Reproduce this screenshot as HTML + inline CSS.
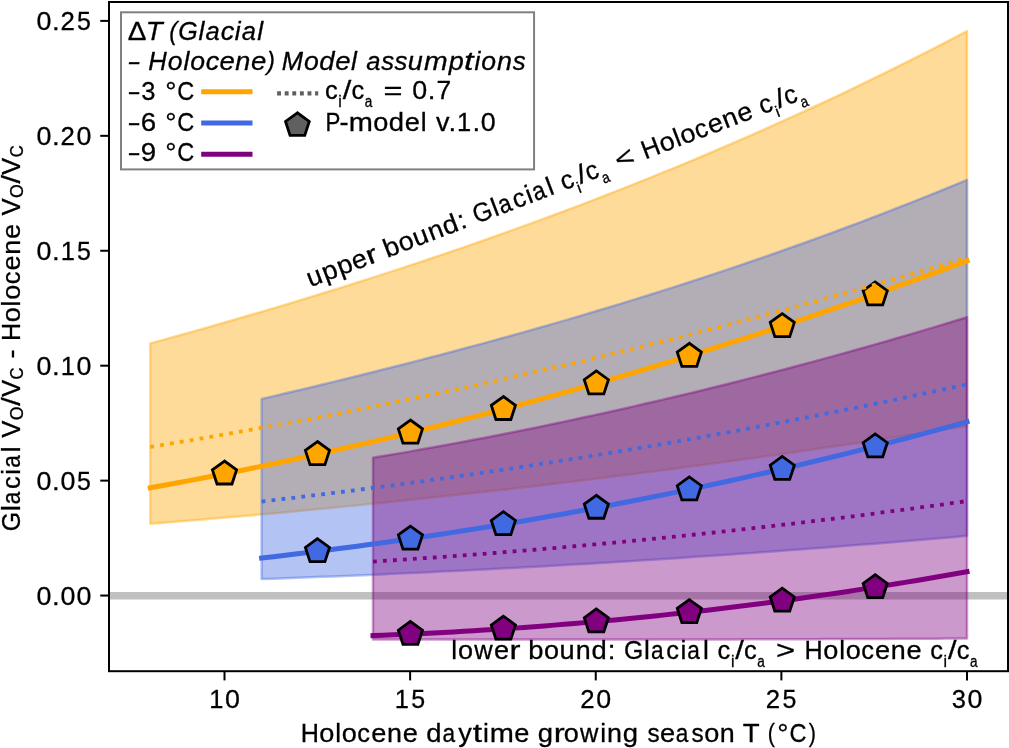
<!DOCTYPE html>
<html><head><meta charset="utf-8"><style>
html,body{margin:0;padding:0;background:#fff;}
body{width:1009px;height:748px;overflow:hidden;}
svg{display:block;font-family:"Liberation Sans",sans-serif;will-change:transform;}
</style></head><body>
<svg width="1009" height="748" viewBox="0 0 1009 748">
<rect width="1009" height="748" fill="#fff"/>
<defs><clipPath id="ax"><rect x="109" y="2" width="899" height="669.2"/></clipPath></defs>
<g clip-path="url(#ax)">
<line x1="109" x2="1008" y1="595.7" y2="595.7" stroke="#c0c0c0" stroke-width="7.5"/>
<path d="M150.25,343.40 L164.09,339.60 L177.94,335.76 L191.78,331.89 L205.62,327.98 L219.47,324.03 L233.31,320.04 L247.15,316.02 L261.00,311.95 L274.84,307.85 L288.68,303.70 L302.53,299.51 L316.37,295.27 L330.21,290.99 L344.06,286.67 L357.90,282.30 L371.74,277.88 L385.58,273.42 L399.43,268.90 L413.27,264.34 L427.11,259.72 L440.96,255.06 L454.80,250.34 L468.64,245.57 L482.49,240.74 L496.33,235.86 L510.17,230.93 L524.02,225.93 L537.86,220.88 L551.70,215.78 L565.55,210.61 L579.39,205.38 L593.23,200.09 L607.08,194.74 L620.92,189.33 L634.76,183.86 L648.61,178.32 L662.45,172.71 L676.29,167.04 L690.14,161.30 L703.98,155.49 L717.82,149.62 L731.67,143.67 L745.51,137.66 L759.35,131.57 L773.19,125.41 L787.04,119.18 L800.88,112.88 L814.72,106.50 L828.57,100.04 L842.41,93.51 L856.25,86.90 L870.10,80.22 L883.94,73.45 L897.78,66.60 L911.63,59.68 L925.47,52.67 L939.31,45.58 L953.16,38.40 L967.00,31.15 L967.00,425.99 L953.16,428.20 L939.31,430.39 L925.47,432.56 L911.63,434.72 L897.78,436.85 L883.94,438.97 L870.10,441.06 L856.25,443.14 L842.41,445.20 L828.57,447.24 L814.72,449.26 L800.88,451.26 L787.04,453.24 L773.19,455.21 L759.35,457.15 L745.51,459.08 L731.67,460.98 L717.82,462.87 L703.98,464.74 L690.14,466.59 L676.29,468.42 L662.45,470.23 L648.61,472.02 L634.76,473.80 L620.92,475.55 L607.08,477.28 L593.23,479.00 L579.39,480.70 L565.55,482.37 L551.70,484.03 L537.86,485.67 L524.02,487.29 L510.17,488.89 L496.33,490.48 L482.49,492.04 L468.64,493.58 L454.80,495.11 L440.96,496.61 L427.11,498.10 L413.27,499.57 L399.43,501.02 L385.58,502.45 L371.74,503.86 L357.90,505.25 L344.06,506.62 L330.21,507.98 L316.37,509.31 L302.53,510.63 L288.68,511.92 L274.84,513.20 L261.00,514.46 L247.15,515.70 L233.31,516.92 L219.47,518.12 L205.62,519.30 L191.78,520.47 L177.94,521.61 L164.09,522.73 L150.25,523.84 Z" fill="#ffa500" fill-opacity="0.4" stroke="#ffa500" stroke-opacity="0.4" stroke-width="2.5" stroke-linejoin="round"/>
<path d="M261.62,398.91 L273.58,396.13 L285.54,393.33 L297.49,390.50 L309.45,387.66 L321.40,384.78 L333.36,381.89 L345.31,378.97 L357.27,376.03 L369.22,373.06 L381.18,370.06 L393.14,367.04 L405.09,363.99 L417.05,360.91 L429.00,357.81 L440.96,354.68 L452.91,351.51 L464.87,348.32 L476.82,345.10 L488.78,341.84 L500.74,338.56 L512.69,335.24 L524.65,331.89 L536.60,328.50 L548.56,325.08 L560.51,321.63 L572.47,318.14 L584.42,314.62 L596.38,311.06 L608.33,307.47 L620.29,303.84 L632.25,300.17 L644.20,296.46 L656.16,292.71 L668.11,288.93 L680.07,285.10 L692.02,281.23 L703.98,277.33 L715.93,273.38 L727.89,269.39 L739.85,265.35 L751.80,261.28 L763.76,257.16 L775.71,252.99 L787.67,248.78 L799.62,244.53 L811.58,240.23 L823.53,235.88 L835.49,231.48 L847.44,227.04 L859.40,222.55 L871.36,218.01 L883.31,213.43 L895.27,208.79 L907.22,204.10 L919.18,199.36 L931.13,194.57 L943.09,189.73 L955.04,184.83 L967.00,179.88 L967.00,535.87 L955.04,536.91 L943.09,537.94 L931.13,538.96 L919.18,539.97 L907.22,540.97 L895.27,541.95 L883.31,542.93 L871.36,543.90 L859.40,544.85 L847.44,545.80 L835.49,546.73 L823.53,547.66 L811.58,548.57 L799.62,549.47 L787.67,550.37 L775.71,551.25 L763.76,552.12 L751.80,552.98 L739.85,553.83 L727.89,554.67 L715.93,555.50 L703.98,556.31 L692.02,557.12 L680.07,557.92 L668.11,558.70 L656.16,559.48 L644.20,560.24 L632.25,561.00 L620.29,561.74 L608.33,562.47 L596.38,563.20 L584.42,563.91 L572.47,564.61 L560.51,565.30 L548.56,565.98 L536.60,566.65 L524.65,567.31 L512.69,567.95 L500.74,568.59 L488.78,569.22 L476.82,569.83 L464.87,570.44 L452.91,571.03 L440.96,571.62 L429.00,572.19 L417.05,572.75 L405.09,573.30 L393.14,573.85 L381.18,574.38 L369.22,574.90 L357.27,575.41 L345.31,575.91 L333.36,576.39 L321.40,576.87 L309.45,577.34 L297.49,577.80 L285.54,578.24 L273.58,578.68 L261.62,579.10 Z" fill="#4169e1" fill-opacity="0.4" stroke="#4169e1" stroke-opacity="0.4" stroke-width="2.5" stroke-linejoin="round"/>
<path d="M373.00,457.76 L383.07,456.08 L393.14,454.37 L403.20,452.63 L413.27,450.88 L423.34,449.09 L433.41,447.29 L443.47,445.46 L453.54,443.61 L463.61,441.73 L473.68,439.83 L483.75,437.90 L493.81,435.95 L503.88,433.98 L513.95,431.98 L524.02,429.96 L534.08,427.91 L544.15,425.85 L554.22,423.75 L564.29,421.63 L574.36,419.49 L584.42,417.33 L594.49,415.14 L604.56,412.92 L614.63,410.69 L624.69,408.42 L634.76,406.14 L644.83,403.83 L654.90,401.50 L664.97,399.14 L675.03,396.76 L685.10,394.35 L695.17,391.92 L705.24,389.47 L715.31,386.99 L725.37,384.49 L735.44,381.96 L745.51,379.41 L755.58,376.84 L765.64,374.24 L775.71,371.62 L785.78,368.97 L795.85,366.30 L805.92,363.61 L815.98,360.89 L826.05,358.15 L836.12,355.38 L846.19,352.59 L856.25,349.78 L866.32,346.94 L876.39,344.08 L886.46,341.19 L896.53,338.28 L906.59,335.35 L916.66,332.39 L926.73,329.41 L936.80,326.40 L946.86,323.37 L956.93,320.32 L967.00,317.24 L967.00,638.50 L956.93,638.55 L946.86,638.60 L936.80,638.65 L926.73,638.70 L916.66,638.75 L906.59,638.80 L896.53,638.84 L886.46,638.88 L876.39,638.93 L866.32,638.97 L856.25,639.01 L846.19,639.05 L836.12,639.08 L826.05,639.12 L815.98,639.15 L805.92,639.19 L795.85,639.22 L785.78,639.25 L775.71,639.28 L765.64,639.31 L755.58,639.33 L745.51,639.36 L735.44,639.38 L725.37,639.41 L715.31,639.43 L705.24,639.45 L695.17,639.47 L685.10,639.49 L675.03,639.50 L664.97,639.52 L654.90,639.53 L644.83,639.54 L634.76,639.56 L624.69,639.57 L614.63,639.57 L604.56,639.58 L594.49,639.59 L584.42,639.59 L574.36,639.60 L564.29,639.60 L554.22,639.60 L544.15,639.60 L534.08,639.60 L524.02,639.60 L513.95,639.59 L503.88,639.59 L493.81,639.58 L483.75,639.57 L473.68,639.56 L463.61,639.55 L453.54,639.54 L443.47,639.53 L433.41,639.51 L423.34,639.50 L413.27,639.48 L403.20,639.46 L393.14,639.44 L383.07,639.42 L373.00,639.40 Z" fill="#800080" fill-opacity="0.4" stroke="#800080" stroke-opacity="0.4" stroke-width="2.5" stroke-linejoin="round"/>
<path d="M150.25,487.82 L164.09,485.30 L177.94,482.73 L191.78,480.11 L205.62,477.45 L219.47,474.74 L233.31,471.99 L247.15,469.19 L261.00,466.34 L274.84,463.45 L288.68,460.51 L302.53,457.53 L316.37,454.50 L330.21,451.43 L344.06,448.31 L357.90,445.15 L371.74,441.94 L385.58,438.68 L399.43,435.38 L413.27,432.03 L427.11,428.64 L440.96,425.20 L454.80,421.72 L468.64,418.19 L482.49,414.61 L496.33,410.99 L510.17,407.33 L524.02,403.61 L537.86,399.86 L551.70,396.05 L565.55,392.21 L579.39,388.31 L593.23,384.37 L607.08,380.39 L620.92,376.36 L634.76,372.28 L648.61,368.16 L662.45,363.99 L676.29,359.78 L690.14,355.52 L703.98,351.22 L717.82,346.87 L731.67,342.47 L745.51,338.03 L759.35,333.55 L773.19,329.02 L787.04,324.44 L800.88,319.82 L814.72,315.15 L828.57,310.44 L842.41,305.68 L856.25,300.88 L870.10,296.03 L883.94,291.14 L897.78,286.20 L911.63,281.21 L925.47,276.18 L939.31,271.11 L953.16,265.99 L967.00,260.82" fill="none" stroke="#ffa500" stroke-width="5" stroke-linecap="square" stroke-linejoin="round"/>
<path d="M261.62,558.08 L273.58,556.69 L285.54,555.28 L297.49,553.84 L309.45,552.38 L321.40,550.88 L333.36,549.35 L345.31,547.79 L357.27,546.20 L369.22,544.58 L381.18,542.93 L393.14,541.25 L405.09,539.54 L417.05,537.80 L429.00,536.02 L440.96,534.22 L452.91,532.38 L464.87,530.52 L476.82,528.62 L488.78,526.69 L500.74,524.72 L512.69,522.73 L524.65,520.70 L536.60,518.65 L548.56,516.55 L560.51,514.43 L572.47,512.27 L584.42,510.08 L596.38,507.86 L608.33,505.61 L620.29,503.32 L632.25,501.00 L644.20,498.64 L656.16,496.25 L668.11,493.83 L680.07,491.37 L692.02,488.88 L703.98,486.35 L715.93,483.79 L727.89,481.20 L739.85,478.57 L751.80,475.90 L763.76,473.20 L775.71,470.47 L787.67,467.70 L799.62,464.90 L811.58,462.05 L823.53,459.18 L835.49,456.27 L847.44,453.32 L859.40,450.33 L871.36,447.31 L883.31,444.26 L895.27,441.16 L907.22,438.03 L919.18,434.86 L931.13,431.66 L943.09,428.42 L955.04,425.14 L967.00,421.83" fill="none" stroke="#4169e1" stroke-width="5" stroke-linecap="square" stroke-linejoin="round"/>
<path d="M373.00,635.62 L383.07,635.23 L393.14,634.83 L403.20,634.40 L413.27,633.95 L423.34,633.47 L433.41,632.97 L443.47,632.45 L453.54,631.90 L463.61,631.33 L473.68,630.74 L483.75,630.12 L493.81,629.48 L503.88,628.81 L513.95,628.12 L524.02,627.41 L534.08,626.67 L544.15,625.91 L554.22,625.12 L564.29,624.31 L574.36,623.48 L584.42,622.62 L594.49,621.74 L604.56,620.83 L614.63,619.90 L624.69,618.95 L634.76,617.97 L644.83,616.96 L654.90,615.93 L664.97,614.88 L675.03,613.80 L685.10,612.70 L695.17,611.57 L705.24,610.42 L715.31,609.24 L725.37,608.04 L735.44,606.81 L745.51,605.56 L755.58,604.29 L765.64,602.98 L775.71,601.66 L785.78,600.31 L795.85,598.93 L805.92,597.53 L815.98,596.10 L826.05,594.65 L836.12,593.17 L846.19,591.66 L856.25,590.14 L866.32,588.58 L876.39,587.00 L886.46,585.40 L896.53,583.76 L906.59,582.11 L916.66,580.42 L926.73,578.72 L936.80,576.98 L946.86,575.22 L956.93,573.44 L967.00,571.62" fill="none" stroke="#800080" stroke-width="5" stroke-linecap="square" stroke-linejoin="round"/>
<path d="M224.50,461.04 L212.42,469.82 L217.04,484.02 L231.96,484.02 L236.58,469.82 Z" fill="#ffa500" stroke="#000" stroke-width="2.8" stroke-linejoin="miter"/>
<path d="M317.46,441.60 L305.38,450.37 L310.00,464.57 L324.93,464.57 L329.54,450.37 Z" fill="#ffa500" stroke="#000" stroke-width="2.8" stroke-linejoin="miter"/>
<path d="M410.43,420.10 L398.35,428.87 L402.96,443.07 L417.89,443.07 L422.50,428.87 Z" fill="#ffa500" stroke="#000" stroke-width="2.8" stroke-linejoin="miter"/>
<path d="M503.39,396.55 L491.31,405.32 L495.92,419.52 L510.85,419.52 L515.47,405.32 Z" fill="#ffa500" stroke="#000" stroke-width="2.8" stroke-linejoin="miter"/>
<path d="M596.35,370.95 L584.27,379.73 L588.89,393.93 L603.81,393.93 L608.43,379.73 Z" fill="#ffa500" stroke="#000" stroke-width="2.8" stroke-linejoin="miter"/>
<path d="M689.31,343.31 L677.23,352.08 L681.85,366.28 L696.78,366.28 L701.39,352.08 Z" fill="#ffa500" stroke="#000" stroke-width="2.8" stroke-linejoin="miter"/>
<path d="M782.27,313.62 L770.20,322.40 L774.81,336.59 L789.74,336.59 L794.35,322.40 Z" fill="#ffa500" stroke="#000" stroke-width="2.8" stroke-linejoin="miter"/>
<path d="M875.24,281.89 L863.16,290.67 L867.77,304.87 L882.70,304.87 L887.32,290.67 Z" fill="#ffa500" stroke="#000" stroke-width="2.8" stroke-linejoin="miter"/>
<path d="M317.46,538.69 L305.38,547.47 L310.00,561.67 L324.93,561.67 L329.54,547.47 Z" fill="#4169e1" stroke="#000" stroke-width="2.8" stroke-linejoin="miter"/>
<path d="M410.43,526.11 L398.35,534.88 L402.96,549.08 L417.89,549.08 L422.50,534.88 Z" fill="#4169e1" stroke="#000" stroke-width="2.8" stroke-linejoin="miter"/>
<path d="M503.39,511.66 L491.31,520.44 L495.92,534.63 L510.85,534.63 L515.47,520.44 Z" fill="#4169e1" stroke="#000" stroke-width="2.8" stroke-linejoin="miter"/>
<path d="M596.35,495.28 L584.27,504.06 L588.89,518.25 L603.81,518.25 L608.43,504.06 Z" fill="#4169e1" stroke="#000" stroke-width="2.8" stroke-linejoin="miter"/>
<path d="M689.31,476.90 L677.23,485.68 L681.85,499.88 L696.78,499.88 L701.39,485.68 Z" fill="#4169e1" stroke="#000" stroke-width="2.8" stroke-linejoin="miter"/>
<path d="M782.27,456.46 L770.20,465.24 L774.81,479.44 L789.74,479.44 L794.35,465.24 Z" fill="#4169e1" stroke="#000" stroke-width="2.8" stroke-linejoin="miter"/>
<path d="M875.24,433.89 L863.16,442.67 L867.77,456.87 L882.70,456.87 L887.32,442.67 Z" fill="#4169e1" stroke="#000" stroke-width="2.8" stroke-linejoin="miter"/>
<path d="M410.43,621.39 L398.35,630.17 L402.96,644.37 L417.89,644.37 L422.50,630.17 Z" fill="#800080" stroke="#000" stroke-width="2.8" stroke-linejoin="miter"/>
<path d="M503.39,616.17 L491.31,624.95 L495.92,639.15 L510.85,639.15 L515.47,624.95 Z" fill="#800080" stroke="#000" stroke-width="2.8" stroke-linejoin="miter"/>
<path d="M596.35,608.93 L584.27,617.70 L588.89,631.90 L603.81,631.90 L608.43,617.70 Z" fill="#800080" stroke="#000" stroke-width="2.8" stroke-linejoin="miter"/>
<path d="M689.31,599.62 L677.23,608.39 L681.85,622.59 L696.78,622.59 L701.39,608.39 Z" fill="#800080" stroke="#000" stroke-width="2.8" stroke-linejoin="miter"/>
<path d="M782.27,588.20 L770.20,596.98 L774.81,611.18 L789.74,611.18 L794.35,596.98 Z" fill="#800080" stroke="#000" stroke-width="2.8" stroke-linejoin="miter"/>
<path d="M875.24,574.65 L863.16,583.42 L867.77,597.62 L882.70,597.62 L887.32,583.42 Z" fill="#800080" stroke="#000" stroke-width="2.8" stroke-linejoin="miter"/>
<path d="M150.25,446.95 L164.09,444.69 L177.94,442.40 L191.78,440.07 L205.62,437.72 L219.47,435.33 L233.31,432.90 L247.15,430.44 L261.00,427.96 L274.84,425.43 L288.68,422.88 L302.53,420.29 L316.37,417.67 L330.21,415.02 L344.06,412.33 L357.90,409.61 L371.74,406.86 L385.58,404.08 L399.43,401.26 L413.27,398.41 L427.11,395.53 L440.96,392.62 L454.80,389.67 L468.64,386.69 L482.49,383.68 L496.33,380.63 L510.17,377.56 L524.02,374.44 L537.86,371.30 L551.70,368.13 L565.55,364.92 L579.39,361.68 L593.23,358.40 L607.08,355.09 L620.92,351.75 L634.76,348.38 L648.61,344.98 L662.45,341.54 L676.29,338.07 L690.14,334.57 L703.98,331.03 L717.82,327.46 L731.67,323.86 L745.51,320.23 L759.35,316.56 L773.19,312.86 L787.04,309.13 L800.88,305.36 L814.72,301.57 L828.57,297.74 L842.41,293.87 L856.25,289.98 L870.10,286.05 L883.94,282.09 L897.78,278.09 L911.63,274.07 L925.47,270.01 L939.31,265.92 L953.16,261.79 L967.00,257.64" fill="none" stroke="#ffa500" stroke-width="3.8" stroke-dasharray="3.8 6.2"/>
<path d="M261.62,501.49 L273.58,500.12 L285.54,498.73 L297.49,497.32 L309.45,495.89 L321.40,494.44 L333.36,492.96 L345.31,491.46 L357.27,489.95 L369.22,488.41 L381.18,486.85 L393.14,485.27 L405.09,483.66 L417.05,482.04 L429.00,480.39 L440.96,478.73 L452.91,477.04 L464.87,475.33 L476.82,473.60 L488.78,471.85 L500.74,470.08 L512.69,468.28 L524.65,466.47 L536.60,464.63 L548.56,462.77 L560.51,460.89 L572.47,458.99 L584.42,457.07 L596.38,455.13 L608.33,453.16 L620.29,451.18 L632.25,449.17 L644.20,447.14 L656.16,445.09 L668.11,443.02 L680.07,440.93 L692.02,438.82 L703.98,436.68 L715.93,434.53 L727.89,432.35 L739.85,430.15 L751.80,427.93 L763.76,425.69 L775.71,423.43 L787.67,421.15 L799.62,418.84 L811.58,416.52 L823.53,414.17 L835.49,411.80 L847.44,409.41 L859.40,407.00 L871.36,404.57 L883.31,402.11 L895.27,399.64 L907.22,397.14 L919.18,394.62 L931.13,392.09 L943.09,389.53 L955.04,386.95 L967.00,384.34" fill="none" stroke="#4169e1" stroke-width="3.8" stroke-dasharray="3.8 6.2"/>
<path d="M373.00,561.53 L383.07,560.90 L393.14,560.25 L403.20,559.58 L413.27,558.91 L423.34,558.22 L433.41,557.51 L443.47,556.80 L453.54,556.06 L463.61,555.32 L473.68,554.56 L483.75,553.79 L493.81,553.01 L503.88,552.21 L513.95,551.40 L524.02,550.58 L534.08,549.74 L544.15,548.89 L554.22,548.02 L564.29,547.14 L574.36,546.25 L584.42,545.35 L594.49,544.43 L604.56,543.50 L614.63,542.55 L624.69,541.59 L634.76,540.62 L644.83,539.64 L654.90,538.64 L664.97,537.63 L675.03,536.60 L685.10,535.56 L695.17,534.51 L705.24,533.44 L715.31,532.36 L725.37,531.27 L735.44,530.16 L745.51,529.05 L755.58,527.91 L765.64,526.77 L775.71,525.61 L785.78,524.43 L795.85,523.25 L805.92,522.05 L815.98,520.83 L826.05,519.61 L836.12,518.37 L846.19,517.11 L856.25,515.85 L866.32,514.57 L876.39,513.27 L886.46,511.96 L896.53,510.64 L906.59,509.31 L916.66,507.96 L926.73,506.60 L936.80,505.23 L946.86,503.84 L956.93,502.44 L967.00,501.02" fill="none" stroke="#800080" stroke-width="3.8" stroke-dasharray="3.8 6.2"/>
</g>
<g transform="translate(310.00,287.40) rotate(-20.900)" fill="#000" stroke="#000" stroke-width="0.30"><text transform="matrix(1.0337,0,0,1,0.32,0.00)" font-size="26.21">u</text><text transform="matrix(1.0421,0,0,1,16.56,0.00)" font-size="26.21">p</text><text transform="matrix(1.0421,0,0,1,32.59,0.00)" font-size="26.21">p</text><text transform="matrix(1.0303,0,0,1,48.27,0.00)" font-size="26.21">e</text><text transform="matrix(1.2500,0,0,1,63.66,0.00)" font-size="26.21">r</text><text transform="matrix(1.0421,0,0,1,82.56,0.00)" font-size="26.21">b</text><text transform="matrix(1.0303,0,0,1,98.24,0.00)" font-size="26.21">o</text><text transform="matrix(1.0337,0,0,1,113.79,0.00)" font-size="26.21">u</text><text transform="matrix(1.0222,0,0,1,129.94,0.00)" font-size="26.21">n</text><text transform="matrix(1.0421,0,0,1,145.69,0.00)" font-size="26.21">d</text><text transform="matrix(1.0500,0,0,1,162.02,0.00)" font-size="26.21">:</text><text transform="matrix(0.9416,0,0,1,178.12,0.00)" font-size="26.21">G</text><text transform="matrix(1.0000,0,0,1,198.24,0.00)" font-size="26.21">l</text><text transform="matrix(0.8611,0,0,1,205.16,0.00)" font-size="26.21">a</text><text transform="matrix(0.9670,0,0,1,220.39,0.00)" font-size="26.21">c</text><text transform="matrix(1.0000,0,0,1,234.61,0.00)" font-size="26.21">i</text><text transform="matrix(0.8611,0,0,1,241.53,0.00)" font-size="26.21">a</text><text transform="matrix(1.0000,0,0,1,257.09,0.00)" font-size="26.21">l</text><text transform="matrix(0.9670,0,0,1,271.80,0.00)" font-size="26.21">c</text><text transform="matrix(1.0000,0,0,1,285.07,8.00)" font-size="15.72">i</text><text transform="matrix(1.1695,0,0,1,289.50,0.00)" font-size="26.21">/</text><text transform="matrix(0.9670,0,0,1,298.29,0.00)" font-size="26.21">c</text><text transform="matrix(0.8615,0,0,1,311.52,8.00)" font-size="15.72">a</text><text transform="matrix(1.2451,0,0,1,330.15,0.00)" font-size="26.21">&lt;</text><text transform="matrix(0.9573,0,0,1,358.73,0.00)" font-size="26.21">H</text><text transform="matrix(1.0303,0,0,1,377.47,0.00)" font-size="26.21">o</text><text transform="matrix(1.0000,0,0,1,393.32,0.00)" font-size="26.21">l</text><text transform="matrix(1.0303,0,0,1,399.93,0.00)" font-size="26.21">o</text><text transform="matrix(0.9670,0,0,1,415.45,0.00)" font-size="26.21">c</text><text transform="matrix(1.0303,0,0,1,429.26,0.00)" font-size="26.21">e</text><text transform="matrix(1.0222,0,0,1,445.04,0.00)" font-size="26.21">n</text><text transform="matrix(1.0303,0,0,1,460.80,0.00)" font-size="26.21">e</text><text transform="matrix(0.9670,0,0,1,484.43,0.00)" font-size="26.21">c</text><text transform="matrix(1.0000,0,0,1,497.70,8.00)" font-size="15.72">i</text><text transform="matrix(1.1695,0,0,1,502.13,0.00)" font-size="26.21">/</text><text transform="matrix(0.9670,0,0,1,510.92,0.00)" font-size="26.21">c</text><text transform="matrix(0.8615,0,0,1,524.15,8.00)" font-size="15.72">a</text></g>
<g transform="translate(450.75,659.00)" fill="#000" stroke="#000" stroke-width="0.30"><text transform="matrix(1.0000,0,0,1,0.62,0.00)" font-size="26.31">l</text><text transform="matrix(1.0303,0,0,1,7.23,0.00)" font-size="26.31">o</text><text transform="matrix(0.9675,0,0,1,23.58,0.00)" font-size="26.31">w</text><text transform="matrix(1.0303,0,0,1,43.33,0.00)" font-size="26.31">e</text><text transform="matrix(1.2500,0,0,1,58.71,0.00)" font-size="26.31">r</text><text transform="matrix(1.0421,0,0,1,77.61,0.00)" font-size="26.31">b</text><text transform="matrix(1.0303,0,0,1,93.30,0.00)" font-size="26.31">o</text><text transform="matrix(1.0337,0,0,1,108.85,0.00)" font-size="26.31">u</text><text transform="matrix(1.0222,0,0,1,125.00,0.00)" font-size="26.31">n</text><text transform="matrix(1.0421,0,0,1,140.74,0.00)" font-size="26.31">d</text><text transform="matrix(1.0500,0,0,1,157.07,0.00)" font-size="26.31">:</text><text transform="matrix(0.9416,0,0,1,173.18,0.00)" font-size="26.31">G</text><text transform="matrix(1.0000,0,0,1,193.29,0.00)" font-size="26.31">l</text><text transform="matrix(0.8611,0,0,1,200.21,0.00)" font-size="26.31">a</text><text transform="matrix(0.9670,0,0,1,215.44,0.00)" font-size="26.31">c</text><text transform="matrix(1.0000,0,0,1,229.66,0.00)" font-size="26.31">i</text><text transform="matrix(0.8611,0,0,1,236.58,0.00)" font-size="26.31">a</text><text transform="matrix(1.0000,0,0,1,252.15,0.00)" font-size="26.31">l</text><text transform="matrix(0.9670,0,0,1,266.85,0.00)" font-size="26.31">c</text><text transform="matrix(1.0000,0,0,1,280.13,8.00)" font-size="15.79">i</text><text transform="matrix(1.1695,0,0,1,284.55,0.00)" font-size="26.31">/</text><text transform="matrix(0.9670,0,0,1,293.35,0.00)" font-size="26.31">c</text><text transform="matrix(0.8615,0,0,1,306.58,8.00)" font-size="15.79">a</text><text transform="matrix(1.2451,0,0,1,325.21,0.00)" font-size="26.31">&gt;</text><text transform="matrix(0.9573,0,0,1,353.79,0.00)" font-size="26.31">H</text><text transform="matrix(1.0303,0,0,1,372.52,0.00)" font-size="26.31">o</text><text transform="matrix(1.0000,0,0,1,388.38,0.00)" font-size="26.31">l</text><text transform="matrix(1.0303,0,0,1,394.99,0.00)" font-size="26.31">o</text><text transform="matrix(0.9670,0,0,1,410.51,0.00)" font-size="26.31">c</text><text transform="matrix(1.0303,0,0,1,424.32,0.00)" font-size="26.31">e</text><text transform="matrix(1.0222,0,0,1,440.10,0.00)" font-size="26.31">n</text><text transform="matrix(1.0303,0,0,1,455.85,0.00)" font-size="26.31">e</text><text transform="matrix(0.9670,0,0,1,479.49,0.00)" font-size="26.31">c</text><text transform="matrix(1.0000,0,0,1,492.76,8.00)" font-size="15.79">i</text><text transform="matrix(1.1695,0,0,1,497.18,0.00)" font-size="26.31">/</text><text transform="matrix(0.9670,0,0,1,505.98,0.00)" font-size="26.31">c</text><text transform="matrix(0.8615,0,0,1,519.21,8.00)" font-size="15.79">a</text></g>
<g stroke="#000" stroke-width="2" fill="none" stroke-linecap="square">
<rect x="109" y="2" width="899" height="669.2" stroke-linejoin="miter"/>
<line x1="224.50" x2="224.50" y1="671.20" y2="680.40" stroke-linecap="butt"/>
<line x1="410.12" x2="410.12" y1="671.20" y2="680.40" stroke-linecap="butt"/>
<line x1="595.75" x2="595.75" y1="671.20" y2="680.40" stroke-linecap="butt"/>
<line x1="781.38" x2="781.38" y1="671.20" y2="680.40" stroke-linecap="butt"/>
<line x1="967.00" x2="967.00" y1="671.20" y2="680.40" stroke-linecap="butt"/>
<line x1="100.25" x2="109" y1="595.55" y2="595.55" stroke-linecap="butt"/>
<line x1="100.25" x2="109" y1="480.62" y2="480.62" stroke-linecap="butt"/>
<line x1="100.25" x2="109" y1="365.69" y2="365.69" stroke-linecap="butt"/>
<line x1="100.25" x2="109" y1="250.76" y2="250.76" stroke-linecap="butt"/>
<line x1="100.25" x2="109" y1="135.83" y2="135.83" stroke-linecap="butt"/>
<line x1="100.25" x2="109" y1="20.90" y2="20.90" stroke-linecap="butt"/>
</g>
<g transform="translate(224.50,707.70)" fill="#000" stroke="#000" stroke-width="0.30"><text transform="matrix(0.9670,0,0,1,-15.25,0.00)" font-size="26.31">1</text><text transform="matrix(1.0200,0,0,1,0.60,0.00)" font-size="26.31">0</text></g>
<g transform="translate(410.12,707.70)" fill="#000" stroke="#000" stroke-width="0.30"><text transform="matrix(0.9670,0,0,1,-15.25,0.00)" font-size="26.31">1</text><text transform="matrix(0.9500,0,0,1,1.05,0.00)" font-size="26.31">5</text></g>
<g transform="translate(595.75,707.70)" fill="#000" stroke="#000" stroke-width="0.30"><text transform="matrix(0.9792,0,0,1,-15.54,0.00)" font-size="26.31">2</text><text transform="matrix(1.0200,0,0,1,0.60,0.00)" font-size="26.31">0</text></g>
<g transform="translate(781.38,707.70)" fill="#000" stroke="#000" stroke-width="0.30"><text transform="matrix(0.9792,0,0,1,-15.54,0.00)" font-size="26.31">2</text><text transform="matrix(0.9500,0,0,1,1.05,0.00)" font-size="26.31">5</text></g>
<g transform="translate(967.00,707.70)" fill="#000" stroke="#000" stroke-width="0.30"><text transform="matrix(0.9700,0,0,1,-15.16,0.00)" font-size="26.31">3</text><text transform="matrix(1.0200,0,0,1,0.60,0.00)" font-size="26.31">0</text></g>
<g transform="translate(92.00,605.05)" fill="#000" stroke="#000" stroke-width="0.30"><text transform="matrix(1.0200,0,0,1,-55.62,0.00)" font-size="26.31">0</text><text transform="matrix(1.0500,0,0,1,-39.90,0.00)" font-size="26.31">.</text><text transform="matrix(1.0200,0,0,1,-31.52,0.00)" font-size="26.31">0</text><text transform="matrix(1.0200,0,0,1,-15.46,0.00)" font-size="26.31">0</text></g>
<g transform="translate(92.00,490.12)" fill="#000" stroke="#000" stroke-width="0.30"><text transform="matrix(1.0200,0,0,1,-55.62,0.00)" font-size="26.31">0</text><text transform="matrix(1.0500,0,0,1,-39.90,0.00)" font-size="26.31">.</text><text transform="matrix(1.0200,0,0,1,-31.52,0.00)" font-size="26.31">0</text><text transform="matrix(0.9500,0,0,1,-15.01,0.00)" font-size="26.31">5</text></g>
<g transform="translate(92.00,375.19)" fill="#000" stroke="#000" stroke-width="0.30"><text transform="matrix(1.0200,0,0,1,-55.62,0.00)" font-size="26.31">0</text><text transform="matrix(1.0500,0,0,1,-39.90,0.00)" font-size="26.31">.</text><text transform="matrix(0.9670,0,0,1,-31.31,0.00)" font-size="26.31">1</text><text transform="matrix(1.0200,0,0,1,-15.46,0.00)" font-size="26.31">0</text></g>
<g transform="translate(92.00,260.26)" fill="#000" stroke="#000" stroke-width="0.30"><text transform="matrix(1.0200,0,0,1,-55.62,0.00)" font-size="26.31">0</text><text transform="matrix(1.0500,0,0,1,-39.90,0.00)" font-size="26.31">.</text><text transform="matrix(0.9670,0,0,1,-31.31,0.00)" font-size="26.31">1</text><text transform="matrix(0.9500,0,0,1,-15.01,0.00)" font-size="26.31">5</text></g>
<g transform="translate(92.00,145.33)" fill="#000" stroke="#000" stroke-width="0.30"><text transform="matrix(1.0200,0,0,1,-55.62,0.00)" font-size="26.31">0</text><text transform="matrix(1.0500,0,0,1,-39.90,0.00)" font-size="26.31">.</text><text transform="matrix(0.9792,0,0,1,-31.60,0.00)" font-size="26.31">2</text><text transform="matrix(1.0200,0,0,1,-15.46,0.00)" font-size="26.31">0</text></g>
<g transform="translate(92.00,30.40)" fill="#000" stroke="#000" stroke-width="0.30"><text transform="matrix(1.0200,0,0,1,-55.62,0.00)" font-size="26.31">0</text><text transform="matrix(1.0500,0,0,1,-39.90,0.00)" font-size="26.31">.</text><text transform="matrix(0.9792,0,0,1,-31.60,0.00)" font-size="26.31">2</text><text transform="matrix(0.9500,0,0,1,-15.01,0.00)" font-size="26.31">5</text></g>
<g transform="translate(558.50,742.40)" fill="#000" stroke="#000" stroke-width="0.30"><text transform="matrix(0.9573,0,0,1,-257.87,0.00)" font-size="26.31">H</text><text transform="matrix(1.0303,0,0,1,-239.14,0.00)" font-size="26.31">o</text><text transform="matrix(1.0000,0,0,1,-223.28,0.00)" font-size="26.31">l</text><text transform="matrix(1.0303,0,0,1,-216.67,0.00)" font-size="26.31">o</text><text transform="matrix(0.9670,0,0,1,-201.15,0.00)" font-size="26.31">c</text><text transform="matrix(1.0303,0,0,1,-187.34,0.00)" font-size="26.31">e</text><text transform="matrix(1.0222,0,0,1,-171.56,0.00)" font-size="26.31">n</text><text transform="matrix(1.0303,0,0,1,-155.81,0.00)" font-size="26.31">e</text><text transform="matrix(1.0421,0,0,1,-132.26,0.00)" font-size="26.31">d</text><text transform="matrix(0.8611,0,0,1,-115.90,0.00)" font-size="26.31">a</text><text transform="matrix(1.0286,0,0,1,-100.21,0.00)" font-size="26.31">y</text><text transform="matrix(1.2778,0,0,1,-85.87,0.00)" font-size="26.31">t</text><text transform="matrix(1.0000,0,0,1,-75.49,0.00)" font-size="26.31">i</text><text transform="matrix(1.1020,0,0,1,-68.78,0.00)" font-size="26.31">m</text><text transform="matrix(1.0303,0,0,1,-44.29,0.00)" font-size="26.31">e</text><text transform="matrix(1.0421,0,0,1,-20.74,0.00)" font-size="26.31">g</text><text transform="matrix(1.2500,0,0,1,-4.85,0.00)" font-size="26.31">r</text><text transform="matrix(1.0303,0,0,1,5.18,0.00)" font-size="26.31">o</text><text transform="matrix(0.9675,0,0,1,21.53,0.00)" font-size="26.31">w</text><text transform="matrix(1.0000,0,0,1,41.69,0.00)" font-size="26.31">i</text><text transform="matrix(1.0222,0,0,1,48.54,0.00)" font-size="26.31">n</text><text transform="matrix(1.0421,0,0,1,64.29,0.00)" font-size="26.31">g</text><text transform="matrix(0.9239,0,0,1,88.93,0.00)" font-size="26.31">s</text><text transform="matrix(1.0303,0,0,1,101.51,0.00)" font-size="26.31">e</text><text transform="matrix(0.8611,0,0,1,117.36,0.00)" font-size="26.31">a</text><text transform="matrix(0.9239,0,0,1,133.10,0.00)" font-size="26.31">s</text><text transform="matrix(1.0303,0,0,1,145.67,0.00)" font-size="26.31">o</text><text transform="matrix(1.0222,0,0,1,161.36,0.00)" font-size="26.31">n</text><text transform="matrix(1.0504,0,0,1,184.28,0.00)" font-size="26.31">T</text><text transform="matrix(0.8070,0,0,1,209.20,0.00)" font-size="26.31">(</text><text transform="matrix(1.0678,0,0,1,218.87,0.00)" font-size="26.31">°</text><text transform="matrix(0.8947,0,0,1,231.00,0.00)" font-size="26.31">C</text><text transform="matrix(0.8246,0,0,1,250.36,0.00)" font-size="26.31">)</text></g>
<g transform="translate(19.80,337.80) rotate(-90.000)" fill="#000" stroke="#000" stroke-width="0.30"><text transform="matrix(0.9416,0,0,1,-193.42,0.00)" font-size="26.31">G</text><text transform="matrix(1.0000,0,0,1,-173.31,0.00)" font-size="26.31">l</text><text transform="matrix(0.8611,0,0,1,-166.39,0.00)" font-size="26.31">a</text><text transform="matrix(0.9670,0,0,1,-151.16,0.00)" font-size="26.31">c</text><text transform="matrix(1.0000,0,0,1,-136.94,0.00)" font-size="26.31">i</text><text transform="matrix(0.8611,0,0,1,-130.02,0.00)" font-size="26.31">a</text><text transform="matrix(1.0000,0,0,1,-114.45,0.00)" font-size="26.31">l</text><text transform="matrix(0.9714,0,0,1,-99.91,0.00)" font-size="26.31">V</text><text transform="matrix(0.9600,0,0,1,-82.36,3.00)" font-size="18.42">O</text><text transform="matrix(1.1695,0,0,1,-67.92,0.00)" font-size="26.31">/</text><text transform="matrix(0.9714,0,0,1,-59.29,0.00)" font-size="26.31">V</text><text transform="matrix(0.9032,0,0,1,-41.70,3.00)" font-size="18.42">C</text><text transform="matrix(1.0392,0,0,1,-20.77,0.00)" font-size="26.31">-</text><text transform="matrix(0.9573,0,0,1,-3.25,0.00)" font-size="26.31">H</text><text transform="matrix(1.0303,0,0,1,15.49,0.00)" font-size="26.31">o</text><text transform="matrix(1.0000,0,0,1,31.34,0.00)" font-size="26.31">l</text><text transform="matrix(1.0303,0,0,1,37.95,0.00)" font-size="26.31">o</text><text transform="matrix(0.9670,0,0,1,53.47,0.00)" font-size="26.31">c</text><text transform="matrix(1.0303,0,0,1,67.28,0.00)" font-size="26.31">e</text><text transform="matrix(1.0222,0,0,1,83.06,0.00)" font-size="26.31">n</text><text transform="matrix(1.0303,0,0,1,98.82,0.00)" font-size="26.31">e</text><text transform="matrix(0.9714,0,0,1,122.29,0.00)" font-size="26.31">V</text><text transform="matrix(0.9600,0,0,1,139.84,3.00)" font-size="18.42">O</text><text transform="matrix(1.1695,0,0,1,154.27,0.00)" font-size="26.31">/</text><text transform="matrix(0.9714,0,0,1,162.90,0.00)" font-size="26.31">V</text><text transform="matrix(0.9032,0,0,1,180.50,3.00)" font-size="18.42">C</text></g>
<rect x="121" y="12.3" width="413.05" height="157.1" fill="#fff" stroke="#808080" stroke-width="2"/>
<g transform="translate(127.80,39.50)" fill="#000" stroke="#000" stroke-width="0.30"><text transform="matrix(1.0625,0,0,1,-0.17,0.00)" font-size="26.31">Δ</text><text transform="matrix(1.0488,0,0,1,18.01,0.00)" font-size="26.31" font-style="italic">T</text><text transform="matrix(0.9114,0,0,1,41.57,0.00)" font-size="26.31" font-style="italic">(</text><text transform="matrix(0.9517,0,0,1,50.51,0.00)" font-size="26.31" font-style="italic">G</text><text transform="matrix(1.0000,0,0,1,70.64,0.00)" font-size="26.31" font-style="italic">l</text><text transform="matrix(0.9717,0,0,1,77.67,0.00)" font-size="26.31" font-style="italic">a</text><text transform="matrix(1.0309,0,0,1,92.98,0.00)" font-size="26.31" font-style="italic">c</text><text transform="matrix(1.0000,0,0,1,107.01,0.00)" font-size="26.31" font-style="italic">i</text><text transform="matrix(0.9717,0,0,1,114.04,0.00)" font-size="26.31" font-style="italic">a</text><text transform="matrix(1.0000,0,0,1,129.50,0.00)" font-size="26.31" font-style="italic">l</text></g>
<g transform="translate(127.80,69.50)" fill="#000" stroke="#000" stroke-width="0.30"><text transform="matrix(0.7025,0,0,1,1.18,0.00)" font-size="26.31" font-style="italic">–</text><text transform="matrix(0.9726,0,0,1,20.55,0.00)" font-size="26.31" font-style="italic">H</text><text transform="matrix(1.0095,0,0,1,40.01,0.00)" font-size="26.31" font-style="italic">o</text><text transform="matrix(1.0000,0,0,1,55.59,0.00)" font-size="26.31" font-style="italic">l</text><text transform="matrix(1.0095,0,0,1,62.47,0.00)" font-size="26.31" font-style="italic">o</text><text transform="matrix(1.0309,0,0,1,77.90,0.00)" font-size="26.31" font-style="italic">c</text><text transform="matrix(1.0490,0,0,1,91.64,0.00)" font-size="26.31" font-style="italic">e</text><text transform="matrix(1.0286,0,0,1,107.46,0.00)" font-size="26.31" font-style="italic">n</text><text transform="matrix(1.0490,0,0,1,123.18,0.00)" font-size="26.31" font-style="italic">e</text><text transform="matrix(0.9114,0,0,1,139.27,0.00)" font-size="26.31" font-style="italic">)</text></g>
<g transform="translate(281.80,69.50)" fill="#000" stroke="#000" stroke-width="0.30"><text transform="matrix(0.9704,0,0,1,-0.10,0.00)" font-size="26.31" font-style="italic">M</text><text transform="matrix(1.0095,0,0,1,22.15,0.00)" font-size="26.31" font-style="italic">o</text><text transform="matrix(1.0431,0,0,1,37.45,0.00)" font-size="26.31" font-style="italic">d</text><text transform="matrix(1.0490,0,0,1,53.47,0.00)" font-size="26.31" font-style="italic">e</text><text transform="matrix(1.0000,0,0,1,69.30,0.00)" font-size="26.31" font-style="italic">l</text><text transform="matrix(0.9717,0,0,1,84.35,0.00)" font-size="26.31" font-style="italic">a</text><text transform="matrix(0.9802,0,0,1,99.56,0.00)" font-size="26.31" font-style="italic">s</text><text transform="matrix(0.9802,0,0,1,112.72,0.00)" font-size="26.31" font-style="italic">s</text><text transform="matrix(1.0286,0,0,1,125.97,0.00)" font-size="26.31" font-style="italic">u</text><text transform="matrix(1.0798,0,0,1,142.09,0.00)" font-size="26.31" font-style="italic">m</text><text transform="matrix(1.0256,0,0,1,166.87,0.00)" font-size="26.31" font-style="italic">p</text><text transform="matrix(1.2982,0,0,1,182.29,0.00)" font-size="26.31" font-style="italic">t</text><text transform="matrix(1.0000,0,0,1,192.65,0.00)" font-size="26.31" font-style="italic">i</text><text transform="matrix(1.0095,0,0,1,199.53,0.00)" font-size="26.31" font-style="italic">o</text><text transform="matrix(1.0286,0,0,1,215.10,0.00)" font-size="26.31" font-style="italic">n</text><text transform="matrix(0.9802,0,0,1,230.87,0.00)" font-size="26.31" font-style="italic">s</text></g>
<g transform="translate(127.80,99.90)" fill="#000" stroke="#000" stroke-width="0.30"><text transform="matrix(0.6923,0,0,1,1.25,0.00)" font-size="26.31">–</text><text transform="matrix(0.9700,0,0,1,13.53,0.00)" font-size="26.31">3</text><text transform="matrix(1.0678,0,0,1,37.36,0.00)" font-size="26.31">°</text><text transform="matrix(0.8947,0,0,1,49.49,0.00)" font-size="26.31">C</text></g>
<line x1="201.2" x2="252.5" y1="91.80" y2="91.80" stroke="#ffa500" stroke-width="5"/>
<g transform="translate(127.80,130.50)" fill="#000" stroke="#000" stroke-width="0.30"><text transform="matrix(0.6923,0,0,1,1.25,0.00)" font-size="26.31">–</text><text transform="matrix(1.0515,0,0,1,12.93,0.00)" font-size="26.31">6</text><text transform="matrix(1.0678,0,0,1,37.36,0.00)" font-size="26.31">°</text><text transform="matrix(0.8947,0,0,1,49.49,0.00)" font-size="26.31">C</text></g>
<line x1="201.2" x2="252.5" y1="123.05" y2="123.05" stroke="#4169e1" stroke-width="5"/>
<g transform="translate(127.80,160.50)" fill="#000" stroke="#000" stroke-width="0.30"><text transform="matrix(0.6923,0,0,1,1.25,0.00)" font-size="26.31">–</text><text transform="matrix(1.0515,0,0,1,12.94,0.00)" font-size="26.31">9</text><text transform="matrix(1.0678,0,0,1,37.36,0.00)" font-size="26.31">°</text><text transform="matrix(0.8947,0,0,1,49.49,0.00)" font-size="26.31">C</text></g>
<line x1="201.2" x2="252.5" y1="154.30" y2="154.30" stroke="#800080" stroke-width="5"/>
<line x1="277.1" x2="318.2" y1="93.35" y2="93.35" stroke="#606060" stroke-width="4.4" stroke-dasharray="3.9 3.7"/>
<path d="M297.40,112.80 L285.51,121.44 L290.05,135.41 L304.75,135.41 L309.29,121.44 Z" fill="#606060" stroke="#000" stroke-width="2.8"/>
<g transform="translate(324.80,98.50)" fill="#000" stroke="#000" stroke-width="0.30"><text transform="matrix(0.9670,0,0,1,0.29,0.00)" font-size="26.31">c</text><text transform="matrix(1.0000,0,0,1,13.56,8.00)" font-size="15.79">i</text><text transform="matrix(1.1695,0,0,1,17.98,0.00)" font-size="26.31">/</text><text transform="matrix(0.9670,0,0,1,26.78,0.00)" font-size="26.31">c</text><text transform="matrix(0.8615,0,0,1,40.01,8.00)" font-size="15.79">a</text><text transform="matrix(1.2353,0,0,1,58.65,0.00)" font-size="26.31">=</text><text transform="matrix(1.0200,0,0,1,87.36,0.00)" font-size="26.31">0</text><text transform="matrix(1.0500,0,0,1,103.07,0.00)" font-size="26.31">.</text><text transform="matrix(1.0000,0,0,1,111.59,0.00)" font-size="26.31">7</text></g>
<g transform="translate(324.70,131.00)" fill="#000" stroke="#000" stroke-width="0.30"><text transform="matrix(0.8482,0,0,1,0.70,0.00)" font-size="26.31">P</text><text transform="matrix(1.0392,0,0,1,14.81,0.00)" font-size="26.31">-</text><text transform="matrix(1.1020,0,0,1,24.16,0.00)" font-size="26.31">m</text><text transform="matrix(1.0303,0,0,1,48.65,0.00)" font-size="26.31">o</text><text transform="matrix(1.0421,0,0,1,64.09,0.00)" font-size="26.31">d</text><text transform="matrix(1.0303,0,0,1,80.13,0.00)" font-size="26.31">e</text><text transform="matrix(1.0000,0,0,1,96.07,0.00)" font-size="26.31">l</text><text transform="matrix(1.0286,0,0,1,111.24,0.00)" font-size="26.31">v</text><text transform="matrix(1.0500,0,0,1,123.69,0.00)" font-size="26.31">.</text><text transform="matrix(0.9670,0,0,1,132.27,0.00)" font-size="26.31">1</text><text transform="matrix(1.0500,0,0,1,147.78,0.00)" font-size="26.31">.</text><text transform="matrix(1.0200,0,0,1,156.15,0.00)" font-size="26.31">0</text></g>
</svg>
</body></html>
